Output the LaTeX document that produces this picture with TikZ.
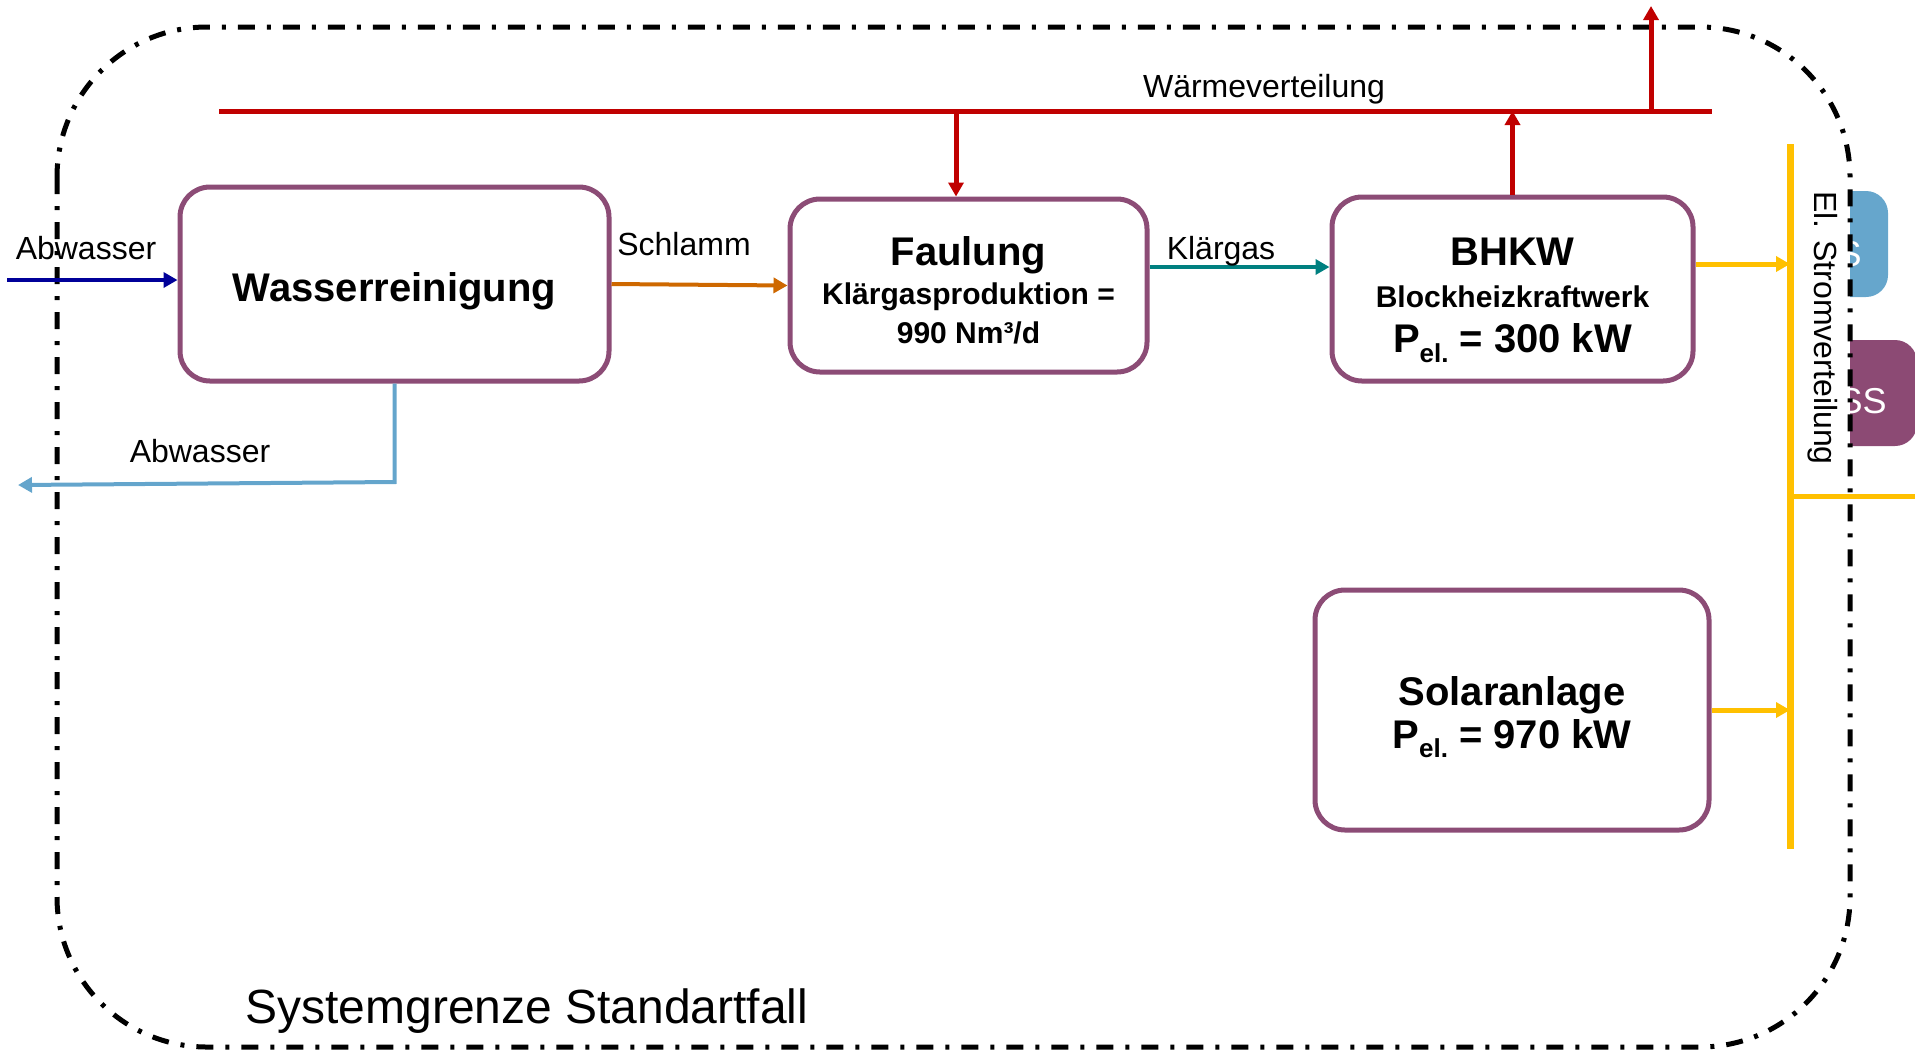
\documentclass[tikz,border=0pt]{standalone}
\usepackage{fontspec}
\setmainfont{Liberation Sans}
\usepackage{tikz}
\usetikzlibrary{arrows.meta}
\definecolor{rahmen}{RGB}{140,76,118}
\definecolor{waermerot}{RGB}{192,0,0}
\definecolor{zulaufblau}{RGB}{0,0,153}
\definecolor{ablaufblau}{RGB}{100,165,204}
\definecolor{schlammorange}{RGB}{206,104,0}
\definecolor{gasgruen}{RGB}{0,128,128}
\definecolor{stromgelb}{RGB}{255,192,0}
\definecolor{kastenblau}{RGB}{102,166,204}
\definecolor{kastenlila}{RGB}{140,74,116}
\newcommand{\Pel}{P\raisebox{-0.45ex}{\fontsize{13}{13}\selectfont el.}}
\newcommand{\gross}{\fontsize{20}{24}\selectfont}

\begin{document}
\begin{tikzpicture}[x=0.5pt, y=-0.5pt,
    anlage/.style={draw=rahmen, line width=2.5pt, rounded corners=15pt},
    inhalt/.style={align=center, font=\bfseries\fontsize{15}{19.5}\selectfont, inner sep=0pt},
    pfeil/.style={-{Triangle[length=7pt,width=7.5pt]}},
    etikett/.style={font=\fontsize{16}{19}\selectfont, anchor=base, inner sep=0pt},
    waerme/.style={draw=waermerot, fill=waermerot, line width=2.5pt},
    strom/.style={draw=stromgelb, fill=stromgelb, line width=2.5pt},
    grenze/.style={line width=2.5pt, rounded corners=75pt,
        dash pattern=on 8.5pt off 6pt on 2pt off 6pt}]
\useasboundingbox (0,0) rectangle (1915,1051);

\begin{scope}
\clip (1850,150) rectangle (1915,470);
\node [fill=kastenblau, rounded corners=11pt, minimum width=69pt,
    minimum height=53pt] (kb) at (1819,244) {};
\node [text=white, anchor=east, inner sep=0pt,
    font=\fontsize{18}{20}\selectfont] (kbt) at (1862,254) {S};
\node [fill=kastenlila, rounded corners=11pt, minimum width=83.5pt,
    minimum height=53pt] (kl) at (1833.5,393) {};
\node [text=white, anchor=east, inner sep=0pt,
    font=\fontsize{18}{20}\selectfont] (klt) at (1887,401) {SS};
\end{scope}

\draw [grenze] (57,27) rectangle (1850,1047);

\node [anlage, minimum width=214.5pt, minimum height=97pt] (W) at (394.5,284) {};
\node [inhalt] (Wt) at ([yshift=-3.5pt]W.center) {\gross Wasserreinigung};
\node [anlage, minimum width=178.5pt, minimum height=86.5pt] (F) at (968.5,285.5) {};
\node [inhalt] (Ft) at ([yshift=-2.5pt]F.center)
    {\gross Faulung\\ Klärgasproduktion =\\ 990 Nm³/d};
\node [anlage, minimum width=180.5pt, minimum height=92pt] (B) at (1512.5,289) {};
\node [inhalt] (Bt) at ([yshift=-5.5pt]B.center)
    {\gross BHKW\\[1.5pt] Blockheizkraftwerk\\[3.2pt] \gross\Pel{} = 300 kW};
\node [anlage, minimum width=197pt, minimum height=120pt] (S) at (1512,710) {};
\node [inhalt] (St) at ([yshift=-3.5pt]S.center)
    {\gross Solaranlage\\[2pt] \gross\Pel{} = 970 kW};

\coordinate (zulauf) at (7,280);
\draw [pfeil, color=zulaufblau, line width=2pt] (zulauf) -- (zulauf -| W.west);
\node [etikett] (abw1) at (86,259) {Abwasser};

\draw [pfeil, color=schlammorange, line width=2pt] (W.east) -- (F.west);
\node [etikett] (schl) at (684,255) {Schlamm};

\coordinate (gas) at (0,267);
\draw [pfeil, color=gasgruen, line width=2pt] (F.east |- gas) -- (B.west |- gas);
\node [etikett] (kg) at (1221,259) {Klärgas};

\coordinate (knick) at (394.5,482);
\coordinate (ablauf) at (18,485);
\draw [pfeil, color=ablaufblau, line width=2pt] (W.south) -- (knick) -- (ablauf);
\node [etikett] (abw2) at (200,462) {Abwasser};

\coordinate (wl) at (219,111);
\coordinate (wr) at (1712,111);
\coordinate (wab) at (956,111);
\coordinate (waus) at (1651,111);
\coordinate (wtop) at (1651,6);
\draw [waerme] (wl) -- (wr);
\draw [waerme, pfeil] (wab) -- (wab |- F.north);
\draw [waerme, pfeil] (B.north) -- (B.north |- wl);
\draw [waerme, pfeil] (waus) -- (wtop);
\node [etikett] (wv) at (1264,97) {Wärmeverteilung};

\coordinate (so) at (1790,144);
\coordinate (su) at (1790,849);
\coordinate (bhkwaus) at (0,264);
\coordinate (abzw) at (1790,496);
\coordinate (rand) at (1915,496);
\draw [strom, line width=3.5pt] (so) -- (su);
\draw [strom, pfeil] (B.east |- bhkwaus) -- (so |- bhkwaus);
\draw [strom, pfeil] (S.east) -- (S.east -| so);
\draw [strom] (abzw) -- (rand);
\node [font=\fontsize{16}{19}\selectfont, rotate=-90, inner sep=0pt] (sv) at (1823,328)
    {El. Stromverteilung};

\node [anchor=base west, inner sep=0pt, font=\fontsize{24}{28}\selectfont] (sg)
    at (245,1023) {Systemgrenze Standartfall};
\end{tikzpicture}
\end{document}
